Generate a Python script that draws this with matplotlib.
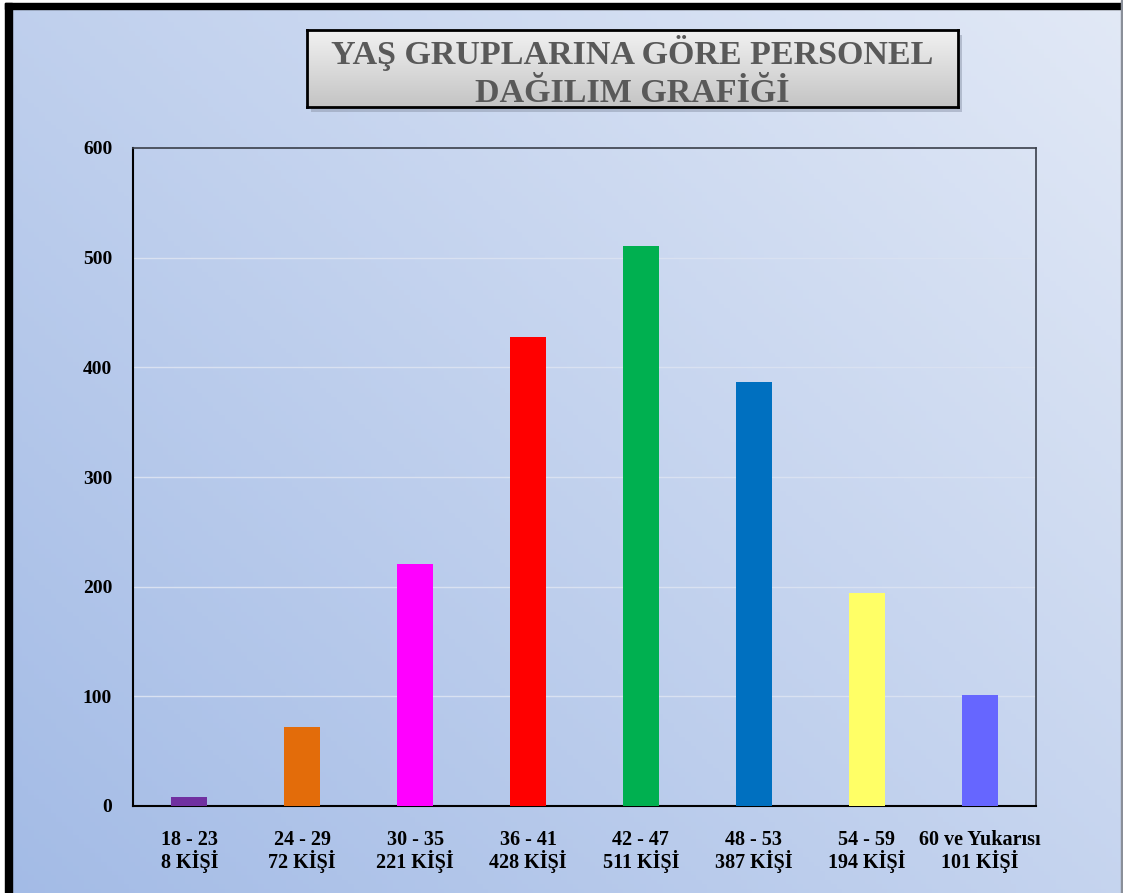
import numpy as np
import matplotlib
matplotlib.use("Agg")
import matplotlib.pyplot as plt
from matplotlib.patches import Rectangle
from matplotlib.colors import LinearSegmentedColormap

categories = ["18 - 23\n8 KİŞİ", "24 - 29\n72 KİŞİ", "30 - 35\n221 KİŞİ", "36 - 41\n428 KİŞİ",
              "42 - 47\n511 KİŞİ", "48 - 53\n387 KİŞİ", "54 - 59\n194 KİŞİ", "60 ve Yukarısı\n101 KİŞİ"]
values = [8, 72, 221, 428, 511, 387, 194, 101]
colors = ["#7030a0", "#e36c0a", "#ff00ff", "#ff0000", "#00b050", "#0070c0", "#ffff66", "#6666ff"]
yticks = [0, 100, 200, 300, 400, 500, 600]
title = "YAŞ GRUPLARINA GÖRE PERSONEL\nDAĞILIM GRAFİĞİ"

plt.rcParams['font.family'] = ['Liberation Serif', 'DejaVu Serif']

W, H = 1123, 893
fig = plt.figure(figsize=(W / 100, H / 100), dpi=100)

# background gradient
bg = fig.add_axes([0, 0, 1, 1], zorder=-10)
yy, xx = np.mgrid[0:1:200j, 0:1:200j]
t = (xx * 0.55 + yy * 0.45)
c0 = np.array([163, 187, 230]) / 255.0
c1 = np.array([226, 233, 246]) / 255.0
img = c0[None, None, :] * (1 - t[..., None]) + c1[None, None, :] * t[..., None]
bg.imshow(img, origin="lower", extent=[0, 1, 0, 1], aspect="auto")
bg.set_xlim(0, 1); bg.set_ylim(0, 1); bg.axis("off")
# frame lines
bg.add_patch(Rectangle((0, 0), 5 / W, 1, color="white", zorder=2))
bg.add_patch(Rectangle((0, 1 - 3 / H), 1, 3 / H, color="white", zorder=2))
bg.add_patch(Rectangle((5 / W, 0), 7 / W, 1 - 3 / H, color="black", zorder=3))
bg.add_patch(Rectangle((5 / W, 1 - 9 / H), 1, 6 / H, color="black", zorder=3))
bg.add_patch(Rectangle((1 - 2 / W, 0), 2 / W, 1, color="#8a8f99", zorder=3))

# main axes
ax = fig.add_axes([133 / W, 87 / H, (1036 - 133) / W, (806 - 148) / H])
ax.patch.set_alpha(0)
x = np.arange(len(values))
ax.bar(x, values, width=0.32, color=colors, zorder=3)
ax.set_xlim(-0.5, len(values) - 0.5)
ax.set_ylim(0, 600)
ax.set_yticks(yticks)
ax.set_yticklabels([str(v) for v in yticks], fontsize=14, fontweight="bold")
ax.set_xticks(x)
ax.set_xticklabels(categories, fontsize=14.5, fontweight="bold", linespacing=1.0)
ax.tick_params(axis="y", length=0, pad=15)
ax.tick_params(axis="x", length=0, pad=17)
for v in yticks[1:-1]:
    ax.axhline(v, color="#d9e1f1", lw=1, zorder=1)
for s in ["left", "bottom"]:
    ax.spines[s].set_color("black")
    ax.spines[s].set_linewidth(1.5)
for s in ["top", "right"]:
    ax.spines[s].set_color("#3a3f4a")
    ax.spines[s].set_linewidth(1.2)

# title box with shadow
bx0, bx1, by0, by1 = 307, 958, 30, 107
shadow = fig.add_axes([(bx0 + 4) / W, (H - by1 - 5) / H, (bx1 - bx0) / W, (by1 - by0) / H], zorder=4)
shadow.set_facecolor("#8c96aa"); shadow.patch.set_alpha(0.5)
shadow.set_xticks([]); shadow.set_yticks([])
for s in shadow.spines.values():
    s.set_visible(False)
tb = fig.add_axes([bx0 / W, (H - by1) / H, (bx1 - bx0) / W, (by1 - by0) / H], zorder=5)
grad = np.linspace(0, 1, 100)[:, None]
cmap = LinearSegmentedColormap.from_list("g", ["#c4c4c4", "#f2f2f2"])
tb.imshow(grad, origin="lower", extent=[0, 1, 0, 1], aspect="auto", cmap=cmap)
tb.set_xlim(0, 1); tb.set_ylim(0, 1)
tb.set_xticks([]); tb.set_yticks([])
for s in tb.spines.values():
    s.set_color("black"); s.set_linewidth(2)
tb.text(0.5, 0.45, title, ha="center", va="center", fontsize=24.5, fontweight="bold",
        color="#595959", linespacing=1.3, transform=tb.transAxes)

fig.savefig("out.png", dpi=100)
